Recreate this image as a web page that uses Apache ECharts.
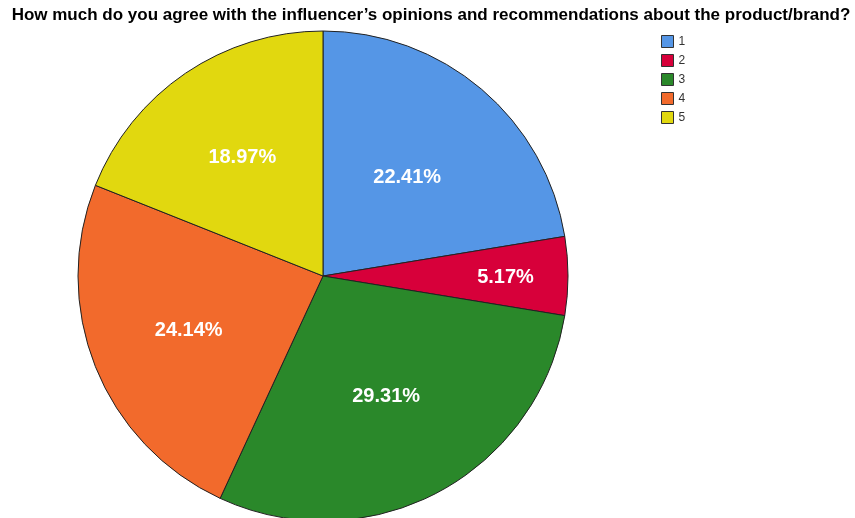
<!DOCTYPE html>
<html>
<head>
<meta charset="utf-8">
<script src="https://cdn.jsdelivr.net/npm/echarts@6/dist/echarts.min.js"></script>
<style>
  html, body { margin: 0; padding: 0; background: #fff; }
  #chart { width: 855px; height: 518px; }
</style>
</head>
<body>
<div id="chart"></div>
<script>
// Responses to the agreement question (counts per answer)
const categories = ['1', '2', '3', '4', '5'];
const counts = [13, 3, 17, 14, 11];
const colors = ['#5596E6', '#D7003A', '#2A882A', '#F26A2C', '#E1D80F'];

const total = counts.reduce((a, b) => a + b, 0);
const cx = 323, cy = 276, R = 245;
// radial placement of each percentage label, as a fraction of the radius
const labelReach = [0.531, 0.745, 0.55, 0.59, 0.587];

// mid-angle of each slice, measured clockwise from 12 o'clock
const midAngles = [];
let acc = 0;
counts.forEach(v => {
  midAngles.push((acc + v / 2) / total * 2 * Math.PI);
  acc += v;
});

const chart = echarts.init(document.getElementById('chart'), null, { renderer: 'canvas' });

chart.setOption({
  animation: false,
  backgroundColor: '#ffffff',
  title: {
    text: 'How much do you agree with the influencer\u2019s opinions and recommendations about the product/brand?',
    left: 431,
    textAlign: 'center',
    top: 7,
    padding: 0,
    textStyle: {
      fontFamily: 'Liberation Sans, Arial, sans-serif',
      fontSize: 17,
      fontWeight: 'bold',
      color: '#000'
    }
  },
  legend: {
    orient: 'vertical',
    left: 661,
    top: 35,
    padding: 0,
    itemWidth: 12,
    itemHeight: 12,
    itemGap: 6,
    icon: 'rect',
    data: categories,
    textStyle: {
      fontFamily: 'Liberation Sans, Arial, sans-serif',
      fontSize: 12,
      color: '#333'
    },
    itemStyle: { borderColor: '#333', borderWidth: 1 }
  },
  series: [{
    type: 'pie',
    center: [cx, cy],
    radius: [0, R],
    startAngle: 90,
    clockwise: true,
    avoidLabelOverlap: false,
    itemStyle: { borderColor: '#222', borderWidth: 1 },
    label: {
      show: true,
      position: 'inside',
      formatter: p => (p.value / total * 100).toFixed(2) + '%',
      color: '#fff',
      fontFamily: 'Liberation Sans, Arial, sans-serif',
      fontSize: 20,
      fontWeight: 'bold'
    },
    labelLayout: function (params) {
      const i = params.dataIndex;
      const a = midAngles[i];
      const d = labelReach[i] * R;
      return {
        x: cx + d * Math.sin(a),
        y: cy - d * Math.cos(a) + 1,
        align: 'center',
        verticalAlign: 'middle'
      };
    },
    labelLine: { show: false },
    emphasis: { disabled: true },
    data: categories.map((c, i) => ({
      name: c,
      value: counts[i],
      itemStyle: { color: colors[i] }
    }))
  }]
});
</script>
</body>
</html>
